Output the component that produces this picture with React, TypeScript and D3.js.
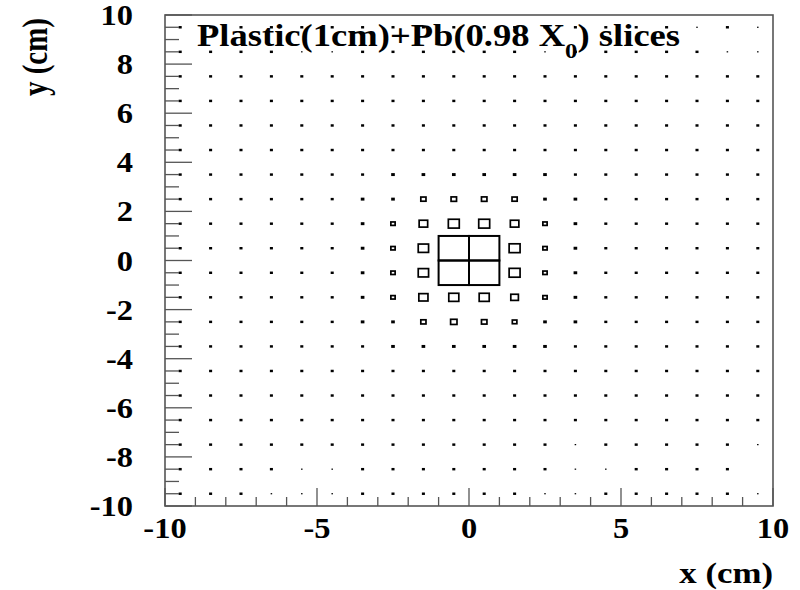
import React from 'react';
import * as d3 from 'd3';

// ---- data ----
const xBinCenters = [-9.5, -8.5, -7.5, -6.5, -5.5, -4.5, -3.5, -2.5, -1.5, -0.5, 0.5, 1.5, 2.5, 3.5, 4.5, 5.5, 6.5, 7.5, 8.5, 9.5];
const yBinCenters = [9.5, 8.5, 7.5, 6.5, 5.5, 4.5, 3.5, 2.5, 1.5, 0.5, -0.5, -1.5, -2.5, -3.5, -4.5, -5.5, -6.5, -7.5, -8.5, -9.5];
// relative bin content, rows top (y=9.5) to bottom (y=-9.5), columns x=-9.5..9.5
const binContent: number[][] = [
  [10, 10, 10, 10, 10, 10, 10, 10, 10, 10, 10, 10, 10, 10, 10, 10, 10, 5, 10, 5],
  [10, 10, 10, 10, 5, 5, 10, 10, 10, 10, 10, 10, 5, 10, 10, 10, 10, 10, 5, 5],
  [10, 10, 10, 10, 10, 10, 10, 10, 10, 10, 10, 10, 10, 10, 10, 10, 10, 10, 10, 10],
  [10, 10, 10, 10, 10, 10, 10, 10, 10, 10, 10, 10, 10, 10, 10, 10, 10, 10, 10, 10],
  [10, 10, 10, 10, 10, 10, 10, 10, 10, 10, 10, 10, 10, 10, 10, 10, 10, 10, 10, 10],
  [10, 10, 10, 10, 10, 10, 10, 10, 10, 10, 10, 10, 10, 10, 10, 10, 10, 10, 10, 10],
  [10, 10, 10, 10, 10, 10, 10, 12, 12, 12, 12, 12, 12, 10, 10, 10, 10, 10, 10, 10],
  [10, 10, 10, 10, 10, 10, 12, 12, 17, 18, 18, 17, 12, 12, 10, 10, 10, 10, 10, 10],
  [10, 10, 10, 10, 10, 10, 12, 14, 28, 36, 36, 28, 14, 12, 10, 10, 10, 10, 10, 10],
  [10, 10, 10, 10, 10, 10, 12, 14, 34, 100, 100, 36, 14, 12, 10, 10, 10, 10, 10, 10],
  [10, 10, 10, 10, 10, 10, 12, 14, 34, 100, 100, 36, 14, 12, 10, 10, 10, 10, 10, 10],
  [10, 10, 10, 10, 10, 10, 12, 14, 30, 33, 33, 25, 14, 12, 10, 10, 10, 10, 10, 10],
  [10, 10, 10, 10, 10, 10, 12, 12, 17, 21, 18, 15, 12, 12, 10, 10, 10, 10, 10, 10],
  [10, 10, 10, 10, 10, 10, 10, 12, 12, 12, 12, 12, 12, 10, 10, 10, 10, 10, 10, 10],
  [10, 10, 10, 10, 10, 10, 10, 10, 10, 10, 10, 10, 10, 10, 10, 10, 10, 10, 10, 10],
  [10, 10, 10, 10, 10, 10, 10, 10, 10, 10, 10, 10, 10, 10, 10, 10, 10, 10, 10, 10],
  [10, 10, 10, 10, 10, 10, 10, 10, 10, 10, 10, 10, 10, 10, 10, 10, 10, 10, 10, 10],
  [10, 10, 10, 10, 10, 10, 10, 10, 10, 10, 10, 10, 10, 5, 10, 10, 10, 10, 10, 5],
  [10, 10, 10, 10, 5, 5, 10, 10, 10, 10, 10, 10, 10, 5, 5, 10, 10, 10, 10, 0],
  [10, 10, 10, 5, 5, 5, 10, 10, 10, 10, 10, 10, 5, 5, 10, 10, 10, 10, 10, 5],
];
const xTickLabels = [-10, -5, 0, 5, 10];
const yTickLabels = [10, 8, 6, 4, 2, 0, -2, -4, -6, -8, -10];
const titleMain = 'Plastic(1cm)+Pb(0.98 X';
const titleSub = '0';
const titleEnd = ') slices';
const xTitle = 'x (cm)';
const yTitle = 'y (cm)';

// ---- layout ----
const W = 800;
const H = 590;
const FL = 165, FR = 773, FT = 15, FB = 506;
const FONT = "'Liberation Serif', 'Times New Roman', Times, serif";
const FRAME = '#555';

export default function App() {
  const x = d3.scaleLinear().domain([-10, 10]).range([FL, FR]);
  const y = d3.scaleLinear().domain([-10, 10]).range([FB, FT]);
  const cellW = x(1) - x(0);
  const cellH = y(0) - y(1);
  const maxV = d3.max(binContent.flat()) as number;
  const size = d3.scaleLinear().domain([0, maxV]).range([0, 1]);

  const boxes: React.ReactNode[] = [];
  binContent.forEach((row, r) => {
    row.forEach((v, c) => {
      if (v <= 0) return;
      const f = size(v);
      const w = f * cellW;
      const h = f * cellH;
      const cx = x(xBinCenters[c]);
      const cy = y(yBinCenters[r]);
      if (w < 4) {
        boxes.push(<rect key={`b${r}-${c}`} x={cx - w / 2} y={cy - h / 2} width={w} height={h} fill="#000" />);
      } else {
        boxes.push(
          <rect key={`b${r}-${c}`} x={cx - w / 2} y={cy - h / 2} width={w} height={h} fill="none" stroke="#000" strokeWidth={f > 0.9 ? 2 : 1.7} />
        );
      }
    });
  });

  const yTicks = d3.range(-10, 10.001, 0.5);
  const xTicks = d3.range(-10, 10.001, 1);

  const textStyle = { fontFamily: FONT, fontWeight: 700 as const, fill: '#000' };

  return (
    <svg width={W} height={H} style={{ position: 'absolute', left: 0, top: 0, background: '#fff' }}>
      <rect x={0} y={0} width={W} height={H} fill="#fff" />
      {boxes}
      {/* y ticks */}
      {yTicks.map((t) => {
        const major = Math.abs(t % 2) < 1e-9;
        const len = major ? 27 : 14;
        return <line key={`yt${t}`} x1={FL} x2={FL + len} y1={y(t)} y2={y(t)} stroke={FRAME} strokeWidth={1.3} />;
      })}
      {/* x ticks */}
      {xTicks.map((t) => {
        const major = Math.abs(t % 5) < 1e-9;
        const len = major ? 18 : 9;
        return <line key={`xt${t}`} x1={x(t)} x2={x(t)} y1={FB} y2={FB - len} stroke={FRAME} strokeWidth={1.3} />;
      })}
      <rect x={FL} y={FT} width={FR - FL} height={FB - FT} fill="none" stroke={FRAME} strokeWidth={1.6} />
      {/* y tick labels */}
      {yTickLabels.map((t) => (
        <g key={`yl${t}`} transform={`translate(133,${y(t) + 10}) scale(1.12,1)`}>
          <text textAnchor="end" fontSize={29} style={textStyle}>{t}</text>
        </g>
      ))}
      {/* x tick labels */}
      {xTickLabels.map((t) => (
        <g key={`xl${t}`} transform={`translate(${x(t)},538) scale(1.12,1)`}>
          <text textAnchor="middle" fontSize={29} style={textStyle}>{t}</text>
        </g>
      ))}
      {/* axis titles */}
      <g transform={`translate(${FR},583) scale(1.2,1)`}>
        <text textAnchor="end" fontSize={29} style={textStyle}>{xTitle}</text>
      </g>
      <g transform={`translate(47,${FT + 3}) rotate(-90) scale(1,1.2)`}>
        <text textAnchor="end" fontSize={29} style={textStyle}>{yTitle}</text>
      </g>
      {/* title */}
      <g transform={`translate(197,46) scale(1.18,1)`}>
        <text fontSize={31} style={textStyle}>
          {titleMain}
          <tspan fontSize={21} dy={12}>{titleSub}</tspan>
          <tspan fontSize={31} dy={-12}>{titleEnd}</tspan>
        </text>
      </g>
    </svg>
  );
}
